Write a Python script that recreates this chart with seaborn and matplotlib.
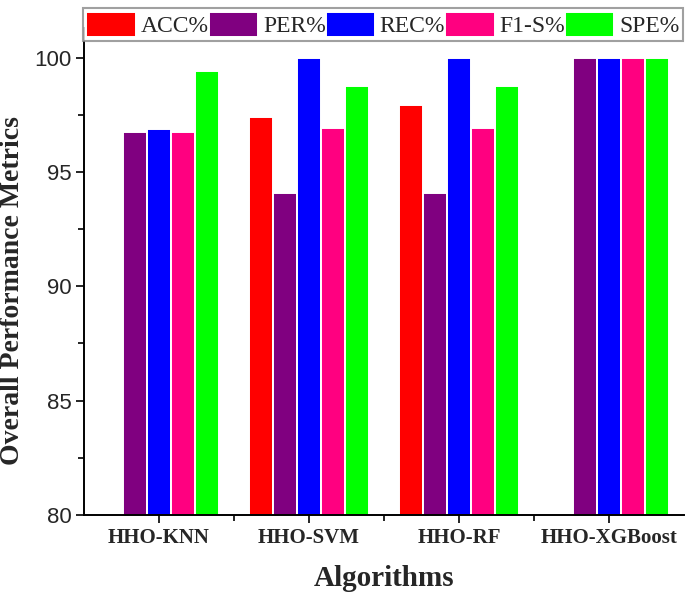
import numpy as np
import pandas as pd
import matplotlib
matplotlib.use("Agg")
import matplotlib.pyplot as plt
import seaborn as sns
from matplotlib.ticker import MultipleLocator, FixedLocator

algorithms = ["HHO-KNN", "HHO-SVM", "HHO-RF", "HHO-XGBoost"]
metrics = ["ACC%", "PER%", "REC%", "F1-S%", "SPE%"]
acc = [np.nan, 97.42, 97.91, np.nan]
per = [96.77, 94.09, 94.09, 100.0]
rec = [96.87, 100.0, 100.0, 100.0]
f1s = [96.74, 96.91, 96.91, 100.0]
spe = [99.42, 98.74, 98.74, 100.0]
colors = ["#FF0000", "#800080", "#0000FF", "#FF0080", "#00FF00"]

rows = []
for m, vals in zip(metrics, [acc, per, rec, f1s, spe]):
    for a, v in zip(algorithms, vals):
        rows.append({"Algorithm": a, "Metric": m, "Value": v})
df = pd.DataFrame(rows)

sns.set_style("ticks")
serif = ["Liberation Serif", "DejaVu Serif"]

fig = plt.figure(figsize=(6.85, 5.94), dpi=100)
ax = fig.add_axes([0.1226, 0.133, 0.876, 0.82])

sns.barplot(data=df, x="Algorithm", y="Value", hue="Metric", order=algorithms,
            hue_order=metrics, palette=colors, width=0.8, edgecolor="white",
            linewidth=1.4, saturation=1, ax=ax, legend=True)

ax.set_xlim(-0.5, 3.5)
ax.set_ylim(80, 101.3)
ax.yaxis.set_major_locator(MultipleLocator(5))
ax.yaxis.set_minor_locator(MultipleLocator(2.5))
ax.xaxis.set_minor_locator(FixedLocator([0.5, 1.5, 2.5]))
ax.tick_params(axis="both", which="major", direction="out", length=6, width=1.2, color="black")
ax.tick_params(axis="both", which="minor", direction="out", length=4, width=1.2, color="black")
ax.tick_params(axis="y", which="major", pad=3)
for s in ["top", "right"]:
    ax.spines[s].set_visible(False)
for s in ["left", "bottom"]:
    ax.spines[s].set_linewidth(1.4)
    ax.spines[s].set_color("black")

for lab in ax.get_yticklabels():
    lab.set_family(["Liberation Sans", "DejaVu Sans"])
    lab.set_fontsize(16)
for lab in ax.get_xticklabels():
    lab.set_family(serif)
    lab.set_fontweight("bold")
    lab.set_fontsize(15)

ax.set_xlabel("Algorithms", fontsize=21, fontweight="bold", family=serif, labelpad=12)
ax.set_ylabel("Overall Performance Metrics", fontsize=20, fontweight="bold", family=serif)
ax.yaxis.set_label_coords(-0.098, 0.46)

handles, labels = ax.get_legend_handles_labels()
ax.get_legend().remove()
leg = fig.legend(handles, labels, loc="lower left", ncol=5, mode="expand",
                 bbox_to_anchor=(0.121, 0.931, 0.876, 0.067),
                 prop={"family": serif, "size": 17}, frameon=True, fancybox=False,
                 edgecolor="#888888", handlelength=2.1, handleheight=1.3,
                 handletextpad=0.2, columnspacing=0.0, borderpad=0.15, borderaxespad=0)
leg.get_frame().set_linewidth(1.5)

fig.savefig("out.png", dpi=100)
